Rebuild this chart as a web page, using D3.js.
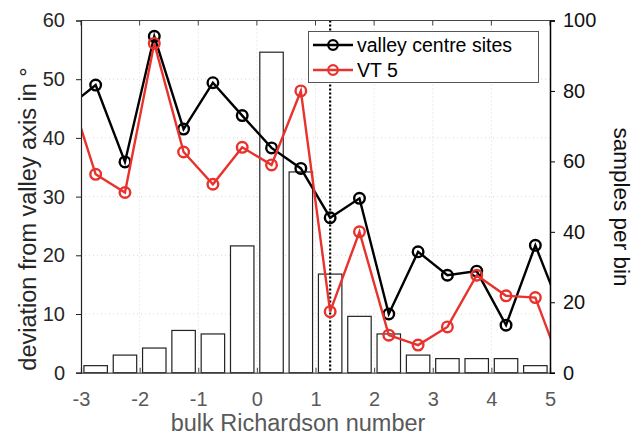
<!DOCTYPE html>
<html>
<head>
<meta charset="utf-8">
<script src="https://cdnjs.cloudflare.com/ajax/libs/d3/7.8.5/d3.min.js"></script>
<style>
  body { margin: 0; background: #fff; }
  svg { font-family: "Liberation Sans", Arial, sans-serif; }
</style>
</head>
<body>
<svg id="chart" width="634" height="436"></svg>
<script>
// bin centres of bulk Richardson number
var binCentres = [-2.75, -2.25, -1.75, -1.25, -0.75, -0.25, 0.25, 0.75,
                  1.25, 1.75, 2.25, 2.75, 3.25, 3.75, 4.25, 4.75];
// samples per bin (right axis)
var samples = [2, 5, 7, 12, 11, 36, 91, 57, 28, 16, 11, 5, 4, 4, 4, 2];

// line series include one bin either side, clipped by the axes
var lineX = [-3.25, -2.75, -2.25, -1.75, -1.25, -0.75, -0.25, 0.25, 0.75,
             1.25, 1.75, 2.25, 2.75, 3.25, 3.75, 4.25, 4.75, 5.25];
var valleyCentre = [45, 49.0, 35.9, 57.3, 41.5, 49.4, 43.8, 38.3, 34.8,
                    26.4, 29.7, 10.0, 20.6, 16.6, 17.3, 8.1, 21.7, 9];
var vt5 = [49.5, 33.8, 30.7, 56.1, 37.6, 32.1, 38.4, 35.4, 48.0,
           10.4, 24.0, 6.4, 4.7, 7.8, 16.6, 13.1, 12.8, -0.5];

var xTicks = [-3, -2, -1, 0, 1, 2, 3, 4, 5];
var yTicks = [0, 10, 20, 30, 40, 50, 60];
var y2Ticks = [0, 20, 40, 60, 80, 100];
var criticalRi = 1.25;

var RED = "#e8322d";
var pLeft = 81, pRight = 550, pTop = 20.5, pBottom = 372.7;

var svg = d3.select("#chart");

var x = d3.scaleLinear().domain([-3, 5]).range([pLeft, pRight]);
var y = d3.scaleLinear().domain([0, 60]).range([pBottom, pTop]);
var y2 = d3.scaleLinear().domain([0, 100]).range([pBottom, pTop]);

svg.append("defs").append("clipPath").attr("id", "clip")
  .append("rect").attr("x", pLeft).attr("y", pTop)
  .attr("width", pRight - pLeft).attr("height", pBottom - pTop);

// grid
var grid = svg.append("g");
grid.selectAll(".gx").data(xTicks.slice(1, -1)).enter().append("line")
  .attr("x1", d => x(d)).attr("x2", d => x(d))
  .attr("y1", pTop).attr("y2", pBottom)
  .attr("stroke", "#d8d8d8").attr("stroke-dasharray", "1,3");
grid.selectAll(".gy").data(yTicks.slice(1, -1)).enter().append("line")
  .attr("x1", pLeft).attr("x2", pRight)
  .attr("y1", d => y(d)).attr("y2", d => y(d))
  .attr("stroke", "#d8d8d8").attr("stroke-dasharray", "1,3");

// bars
svg.append("g").selectAll("rect").data(samples).enter().append("rect")
  .attr("x", (d, i) => x(binCentres[i] - 0.2))
  .attr("width", x(0.4) - x(0))
  .attr("y", d => y2(d))
  .attr("height", d => pBottom - y2(d))
  .attr("fill", "#fff")
  .attr("stroke", "#222")
  .attr("stroke-width", 1.2);

// critical Ri line
svg.append("line")
  .attr("x1", x(criticalRi)).attr("x2", x(criticalRi))
  .attr("y1", pTop).attr("y2", pBottom)
  .attr("stroke", "#000").attr("stroke-width", 2.2)
  .attr("stroke-dasharray", "2,2");

var line = d3.line().x(d => x(d[0])).y(d => y(d[1]));

function drawSeries(vals, colour) {
  var pts = lineX.map((v, i) => [v, vals[i]]);
  var g = svg.append("g").attr("clip-path", "url(#clip)");
  g.append("path").datum(pts)
    .attr("d", line)
    .attr("fill", "none").attr("stroke", colour).attr("stroke-width", 2.4);
  g.selectAll("circle").data(pts.slice(1, -1)).enter().append("circle")
    .attr("cx", d => x(d[0])).attr("cy", d => y(d[1]))
    .attr("r", 5.3)
    .attr("fill", "none").attr("stroke", colour).attr("stroke-width", 2.4);
}
drawSeries(valleyCentre, "#000");
drawSeries(vt5, RED);

// frame
svg.append("line").attr("x1", pLeft).attr("x2", pRight).attr("y1", pTop).attr("y2", pTop)
  .attr("stroke", "#444").attr("stroke-width", 1);

var fmt = d => String(d);
var FONT = "Liberation Sans, Arial, sans-serif";

// x axis bottom
var xAxis = svg.append("g").attr("transform", "translate(0," + pBottom + ")")
  .call(d3.axisBottom(x).tickValues(xTicks).tickSize(-5).tickPadding(19)
    .tickFormat(fmt));
xAxis.select(".domain").attr("stroke", "#444").attr("stroke-width", 1.2);
xAxis.selectAll(".tick line").attr("stroke", "#444");
xAxis.selectAll("text").attr("font-size", 20).attr("fill", "#595959")
  .attr("font-family", FONT);

// top ticks
svg.append("g").selectAll("line").data(xTicks).enter().append("line")
  .attr("x1", d => x(d)).attr("x2", d => x(d))
  .attr("y1", pTop).attr("y2", pTop + 5).attr("stroke", "#444");

// left axis
var yAxis = svg.append("g").attr("transform", "translate(" + pLeft + ",0)")
  .call(d3.axisLeft(y).tickValues(yTicks).tickSize(5).tickPadding(11).tickFormat(fmt));
yAxis.select(".domain").attr("stroke", "#222").attr("stroke-width", 1.2);
yAxis.selectAll(".tick line").attr("stroke", "#222");
yAxis.selectAll("text").attr("font-size", 20).attr("fill", "#262626")
  .attr("font-family", FONT);

// right axis
var y2Axis = svg.append("g").attr("transform", "translate(" + pRight + ",0)")
  .call(d3.axisRight(y2).tickValues(y2Ticks).tickSize(5).tickPadding(8).tickFormat(fmt));
y2Axis.select(".domain").attr("stroke", "#000").attr("stroke-width", 1.5);
y2Axis.selectAll(".tick line").attr("stroke", "#000");
y2Axis.selectAll("text").attr("font-size", 20).attr("fill", "#111")
  .attr("font-family", FONT);

// axis labels
svg.append("text").attr("x", 298).attr("y", 431)
  .attr("text-anchor", "middle").attr("font-size", 23.5).attr("fill", "#595959")
  .text("bulk Richardson number");
svg.append("text")
  .attr("transform", "translate(36,219) rotate(-90)")
  .attr("text-anchor", "middle").attr("font-size", 23.5).attr("fill", "#262626")
  .text("deviation from valley axis in °");
svg.append("text")
  .attr("transform", "translate(614,207) rotate(90)")
  .attr("text-anchor", "middle").attr("font-size", 22.5).attr("fill", "#111")
  .text("samples per bin");

// legend
var legend = svg.append("g");
legend.append("rect").attr("x", 308.5).attr("y", 31.5).attr("width", 230).attr("height", 51)
  .attr("fill", "#fff").attr("stroke", "#555").attr("stroke-width", 1);
var entries = [["valley centre sites", "#000"], ["VT 5", RED]];
entries.forEach(function(e, i) {
  var yy = 45 + i * 25;
  legend.append("line").attr("x1", 313).attr("x2", 353).attr("y1", yy).attr("y2", yy)
    .attr("stroke", e[1]).attr("stroke-width", 2.4);
  legend.append("circle").attr("cx", 333).attr("cy", yy).attr("r", 4.8)
    .attr("fill", "none").attr("stroke", e[1]).attr("stroke-width", 2.2);
  legend.append("text").attr("x", 357).attr("y", yy + 7)
    .attr("font-size", 19.5).attr("fill", "#000").text(e[0]);
});
</script>
</body>
</html>
